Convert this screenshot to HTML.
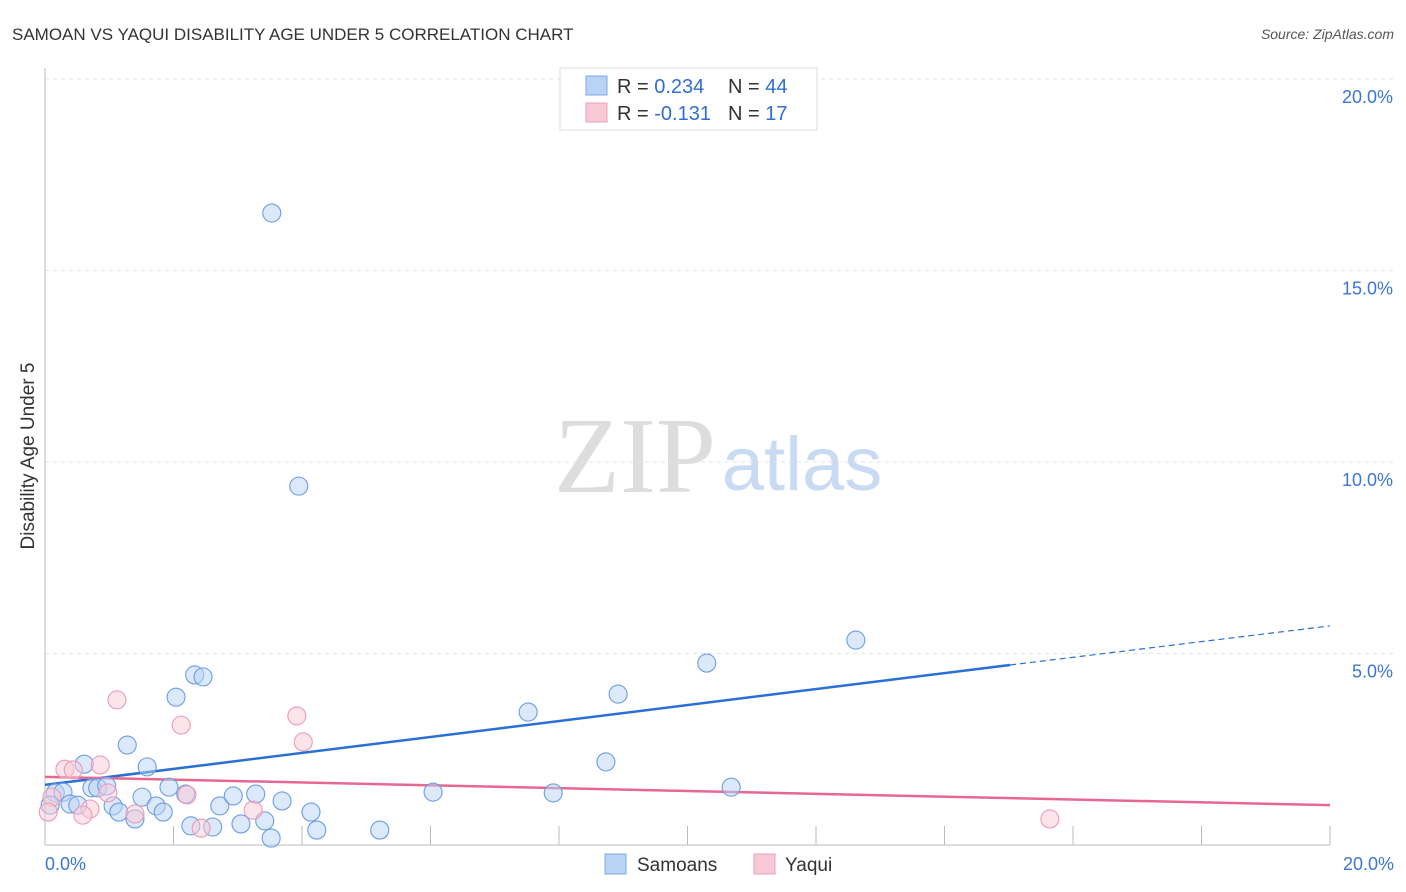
<!DOCTYPE html>
<html><head><meta charset="utf-8"><style>
body{margin:0;background:#fff;font-family:"Liberation Sans",sans-serif}
svg{display:block}
</style></head><body>
<svg id="chart" width="1406" height="892">
<text x="12" y="40" font-size="17" fill="#333">SAMOAN VS YAQUI DISABILITY AGE UNDER 5 CORRELATION CHART</text>
<text x="1394" y="39" font-size="14" fill="#555" font-style="italic" text-anchor="end">Source: ZipAtlas.com</text>
<g>
<text x="635" y="492" font-size="108" fill="#ddd" font-family="Liberation Serif,serif" text-anchor="middle">ZIP</text>
<text x="802" y="490" font-size="76" fill="#c9daf3" text-anchor="middle">atlas</text>
</g>
<g id="grid"></g>
<g id="axes"></g>
<g id="lines"></g>
<g id="points"></g>
<text transform="translate(34,456) rotate(-90)" font-size="19" fill="#333" text-anchor="middle">Disability Age Under 5</text>
<g>
<rect x="560" y="68" width="257" height="62" fill="#fff" stroke="#ddd"/>
<rect x="586" y="76" width="21" height="19" fill="#b9d3f5" stroke="#7aa7e6"/>
<text x="617" y="93" font-size="20" fill="#333">R = <tspan fill="#2f6fd1">0.234</tspan></text>
<text x="728" y="93" font-size="20" fill="#333">N = <tspan fill="#2f6fd1">44</tspan></text>
<rect x="586" y="103" width="21" height="19" fill="#f9c9d8" stroke="#eea0b8"/>
<text x="617" y="120" font-size="20" fill="#333">R = <tspan fill="#2f6fd1">-0.131</tspan></text>
<text x="728" y="120" font-size="20" fill="#333">N = <tspan fill="#2f6fd1"> 17</tspan></text>
</g>
<g>
<rect x="605" y="854" width="21" height="20" fill="#b9d3f5" stroke="#7aa7e6"/>
<text x="637" y="871" font-size="19" fill="#333">Samoans</text>
<rect x="754" y="854" width="21" height="20" fill="#f9c9d8" stroke="#eea0b8"/>
<text x="785" y="871" font-size="19" fill="#333">Yaqui</text>
</g>
</svg>
<script>
const yTicks=[5,10,15,20];
const yTickLabels=["5.0%","10.0%","15.0%","20.0%"];
const xTickLabels=["0.0%","20.0%"];
const samoanX=[2.33,2.46,2.04,1.28,0.61,1.59,0.73,0.82,0.96,0.16,0.28,0.39,0.51,1.06,1.15,1.51,1.73,1.84,1.93,2.19,1.40,2.27,2.61,2.72,2.93,3.28,3.05,3.42,3.52,3.69,4.14,4.23,5.21,6.04,3.53,3.95,7.52,8.92,8.73,10.30,12.62,10.68,7.91,0.08];
const samoanY=[4.44,4.39,3.86,2.61,2.11,2.04,1.49,1.49,1.54,1.36,1.38,1.07,1.04,1.02,0.86,1.25,1.02,0.86,1.51,1.33,0.68,0.50,0.47,1.02,1.28,1.33,0.55,0.63,0.18,1.15,0.86,0.39,0.39,1.38,16.50,9.37,3.47,3.94,2.17,4.75,5.35,1.51,1.36,1.04];
const yaquiX=[1.12,2.12,3.92,4.02,0.31,0.44,0.86,0.98,0.70,0.59,1.40,2.21,3.24,2.43,0.11,0.05,15.64];
const yaquiY=[3.79,3.13,3.37,2.69,1.98,1.96,2.09,1.36,0.94,0.78,0.81,1.31,0.91,0.44,1.25,0.86,0.68];
const samoanTrend=[1.57,4.70,5.72];
const samoanTrendX=[0,15.02,20];
const yaquiTrend=[1.78,1.04];
const x0=45,x1=1330,yb=845,yt=79;
const sx=v=>x0+v/20*(x1-x0), sy=v=>yb-v/20*(yb-yt);
const NS="http://www.w3.org/2000/svg";
function mk(t,a,p){const e=document.createElementNS(NS,t);for(const k in a)e.setAttribute(k,a[k]);p.appendChild(e);return e;}
const grid=document.getElementById('grid'),axes=document.getElementById('axes'),lines=document.getElementById('lines'),pts=document.getElementById('points');
yTicks.forEach((t,i)=>{
 const g=mk('line',{x1:x0,x2:1393,y1:sy(t),y2:sy(t),stroke:'#e3e3e3','stroke-dasharray':'4,4'},grid);
 
 
 const l=mk('text',{x:1393,y:sy(t)+24,'font-size':18,fill:'#3a76d4','text-anchor':'end'},axes);
 l.textContent=yTickLabels[i];
 
 
});
const ax=mk('line',{x1:x0,x2:x0,y1:68,y2:yb,stroke:'#bbb'},axes);


const bx=mk('line',{x1:x0,x2:x1,y1:yb,y2:yb,stroke:'#bbb'},axes);


for(let i=1;i<=10;i++){const t=mk('line',{x1:sx(i*2),x2:sx(i*2),y1:826,y2:yb,stroke:'#bbb'},axes);
 
 }
[[0,'start',45],[20,'end',1394]].forEach((d,i)=>{const t=mk('text',{x:d[2],y:870,'font-size':18,fill:'#3a76d4','text-anchor':d[1]},axes);t.textContent=xTickLabels[i];
 
 });
function dot(x,y,fill,stroke,name){const c=mk('circle',{cx:sx(x),cy:sy(y),r:9,fill:fill,'fill-opacity':0.5,stroke:stroke,'stroke-width':1.1},pts);
 
 }
samoanX.forEach((x,i)=>dot(x,samoanY[i],'#b9d3f5','#6a9de2','samoan-point'));
yaquiX.forEach((x,i)=>dot(x,yaquiY[i],'#f9c9d8','#ec9ab5','yaqui-point'));
const b1=mk('line',{x1:sx(samoanTrendX[0]),y1:sy(samoanTrend[0]),x2:sx(samoanTrendX[1]),y2:sy(samoanTrend[1]),stroke:'#2a6fd6','stroke-width':2.5},lines);


const b2=mk('line',{x1:sx(samoanTrendX[1]),y1:sy(samoanTrend[1]),x2:sx(samoanTrendX[2]),y2:sy(samoanTrend[2]),stroke:'#2a6fd6','stroke-width':1.2,'stroke-dasharray':'6,4'},lines);


const p1=mk('line',{x1:sx(0),y1:sy(yaquiTrend[0]),x2:sx(20),y2:sy(yaquiTrend[1]),stroke:'#e7688f','stroke-width':2.5},lines);


</script>
</body></html>
